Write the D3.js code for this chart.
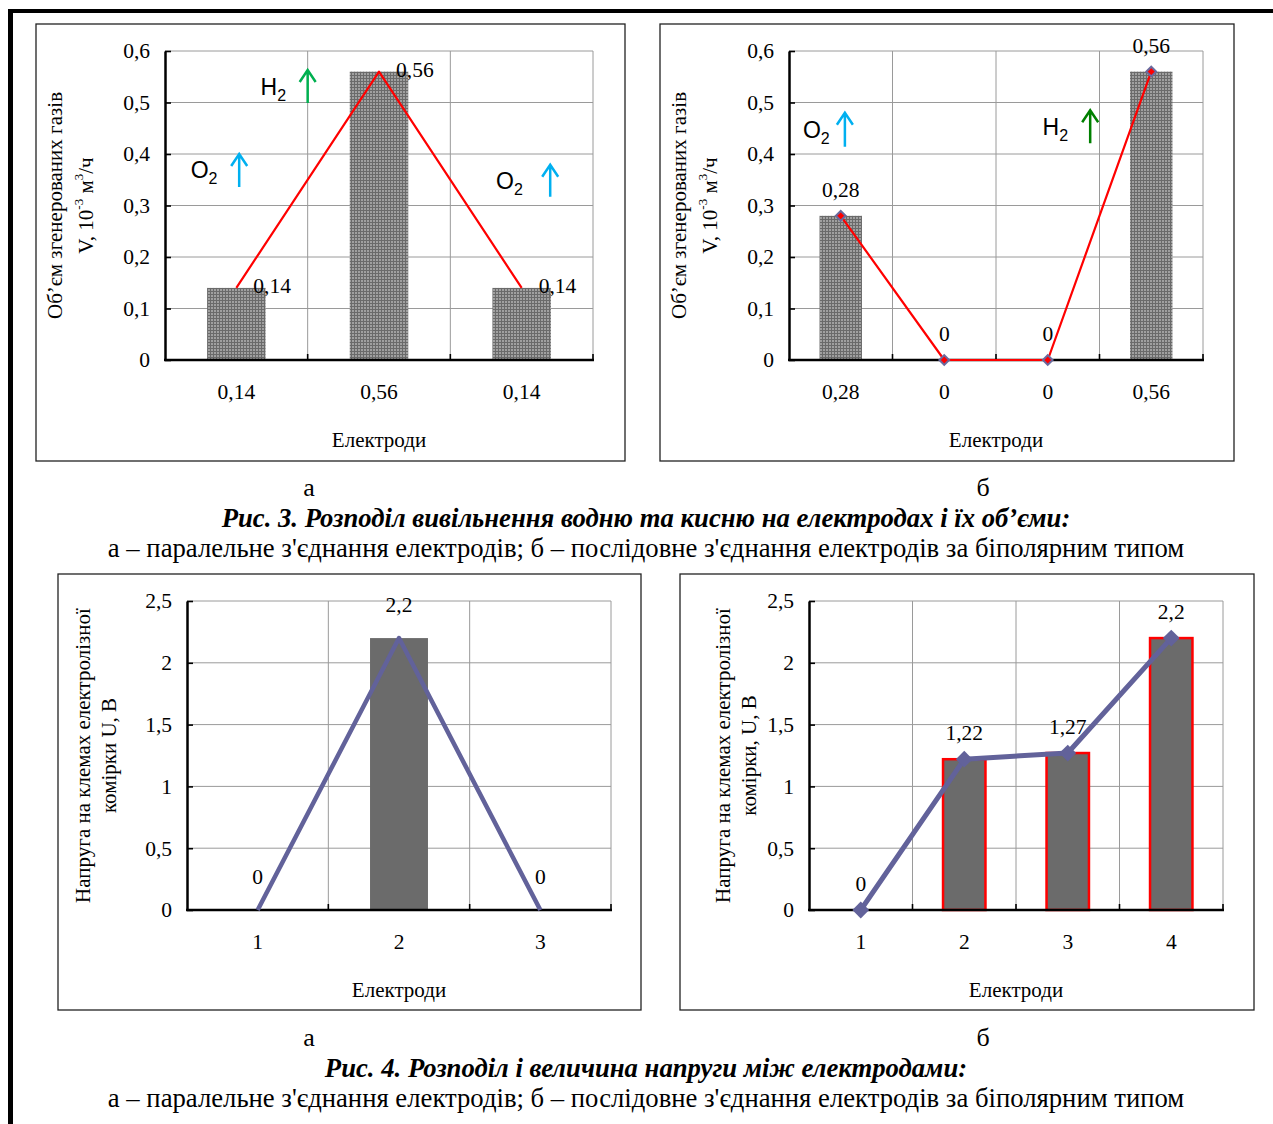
<!DOCTYPE html>
<html>
<head>
<meta charset="utf-8">
<script src="https://cdn.jsdelivr.net/npm/d3@7"></script>
<style>
  body { margin: 0; background: #fff; }
  svg { display: block; }
  text { font-family: 'Liberation Serif', 'Times New Roman', serif; fill: #000; }
  .sans { font-family: 'Liberation Sans', Arial, sans-serif; }
</style>
</head>
<body>
<script>
// --- data ---
const fig3aCategories = ['0,14', '0,56', '0,14']
const fig3aValues = [0.14, 0.56, 0.14]
const fig3bCategories = ['0,28', '0', '0', '0,56']
const fig3bValues = [0.28, 0, 0, 0.56]
const fig3Ticks = [0, 0.1, 0.2, 0.3, 0.4, 0.5, 0.6]

const fig4aCategories = ['1', '2', '3']
const fig4aValues = [0, 2.2, 0]
const fig4bCategories = ['1', '2', '3', '4']
const fig4bValues = [0, 1.22, 1.27, 2.2]
const fig4Ticks = [0, 0.5, 1, 1.5, 2, 2.5]

// gas annotations: x in band units from the left axis, arrow from y0 to y1
const fig3aGases = [
  { gas: 'O', color: '#00b0f0', tx: 0.18, ax: 0.52, y0: 0.336, y1: 0.40 },
  { gas: 'H', color: '#00b050', tx: 0.67, ax: 1.0, y0: 0.499, y1: 0.563 },
  { gas: 'O', color: '#00b0f0', tx: 2.32, ax: 2.70, y0: 0.317, y1: 0.379 }
]
const fig3bGases = [
  { gas: 'O', color: '#00b0f0', tx: 0.135, ax: 0.54, y0: 0.414, y1: 0.48 },
  { gas: 'H', color: '#008000', tx: 2.45, ax: 2.91, y0: 0.421, y1: 0.485 }
]

const subCaption = "а – паралельне з'єднання електродів; б – послідовне з'єднання електродів за біполярним типом"

const fmt = v => String(v).replace('.', ',')

const W = 1273, H = 1124
const svg = d3.select('body').append('svg').attr('width', W).attr('height', H)

// crosshatch fill used by the bars of fig. 3
const defs = svg.append('defs')
const pat = defs.append('pattern')
  .attr('id', 'hatch')
  .attr('patternUnits', 'userSpaceOnUse')
  .attr('width', 3).attr('height', 3)
pat.append('rect').attr('width', 3).attr('height', 3).attr('fill', '#a0a0a0')
pat.append('rect').attr('width', 3).attr('height', 1).attr('fill', '#6a6a6a')
pat.append('rect').attr('width', 1).attr('height', 3).attr('fill', '#6a6a6a')

// page frame (left + top)
svg.append('rect').attr('x', 8).attr('y', 9).attr('width', W - 8).attr('height', 4).attr('fill', '#000')
svg.append('rect').attr('x', 8).attr('y', 9).attr('width', 5).attr('height', H - 9).attr('fill', '#000')

function panel(o) {
  const g = svg.append('g')

  g.append('rect')
    .attr('x', o.box[0]).attr('y', o.box[1])
    .attr('width', o.box[2] - o.box[0]).attr('height', o.box[3] - o.box[1])
    .attr('fill', '#fff').attr('stroke', '#222').attr('stroke-width', 1.3)

  const x = d3.scaleBand().domain(d3.range(o.categories.length))
    .range([o.plot.left, o.plot.right]).padding(0)
  const y = d3.scaleLinear().domain([0, d3.max(o.ticks)])
    .range([o.plot.bottom, o.plot.top])
  const cx = i => x(i) + x.bandwidth() / 2

  // grid
  g.append('g').selectAll('line').data(o.ticks.slice(1)).join('line')
    .attr('x1', o.plot.left).attr('x2', o.plot.right)
    .attr('y1', d => y(d)).attr('y2', d => y(d))
    .attr('stroke', '#9a9a9a').attr('stroke-width', 1)
  const bounds = d3.range(1, o.categories.length + 1)
  const bx = i => o.plot.left + i * x.bandwidth()
  g.append('g').selectAll('line').data(bounds).join('line')
    .attr('x1', bx).attr('x2', bx)
    .attr('y1', o.plot.top).attr('y2', o.plot.bottom)
    .attr('stroke', '#9a9a9a').attr('stroke-width', 1)

  // bars
  const bw = x.bandwidth() * 0.41
  g.append('g').selectAll('rect')
    .data(o.values.map((v, i) => ({ v, i })).filter(d => d.v > 0))
    .join('rect')
    .attr('x', d => cx(d.i) - bw / 2)
    .attr('y', d => y(d.v))
    .attr('width', bw)
    .attr('height', d => y(0) - y(d.v))
    .attr('fill', o.barFill)
    .attr('stroke', o.barStroke || 'none')
    .attr('stroke-width', 2.5)

  // axes
  const yAxis = d3.axisLeft(y).tickValues(o.ticks).tickFormat(fmt)
    .tickSizeInner(-6).tickSizeOuter(0).tickPadding(15)
  const ya = g.append('g').attr('transform', `translate(${o.plot.left},0)`).call(yAxis)
  ya.select('.domain').attr('stroke', '#000').attr('stroke-width', 2.5)
  ya.selectAll('.tick line').attr('stroke', '#000').attr('stroke-width', 1.6)
  ya.selectAll('.tick text').attr('font-size', 21.5)
    .style('font-family', "'Liberation Serif', serif")

  const xa = g.append('g').attr('transform', `translate(0,${o.plot.bottom})`)
  xa.append('line').attr('x1', o.plot.left - 1).attr('x2', o.plot.right + 1)
    .attr('stroke', '#000').attr('stroke-width', 2.5)
  xa.selectAll('.bt').data(bounds).join('line').attr('class', 'bt')
    .attr('x1', bx).attr('x2', bx).attr('y1', 0).attr('y2', -6)
    .attr('stroke', '#000').attr('stroke-width', 1.6)
  xa.selectAll('.xl').data(o.categories).join('text').attr('class', 'xl')
    .attr('x', (d, i) => cx(i)).attr('y', 34)
    .attr('text-anchor', 'middle').attr('dominant-baseline', 'middle')
    .attr('font-size', 21.5).text(d => d)

  // line series
  const line = d3.line().x((d, i) => cx(i)).y(d => y(d))
  g.append('path').datum(o.values)
    .attr('d', line).attr('fill', 'none')
    .attr('stroke', o.lineColor).attr('stroke-width', o.lineWidth)
    .attr('stroke-linejoin', 'round')

  if (o.marker) {
    g.append('g').selectAll('path').data(o.values).join('path')
      .attr('transform', (d, i) => `translate(${cx(i)},${y(d)})`)
      .attr('d', d3.symbol(d3.symbolDiamond2, o.marker.size)())
      .attr('fill', o.marker.fill)
      .attr('stroke', o.marker.stroke)
      .attr('stroke-width', o.marker.strokeWidth)
  }

  // data labels
  g.append('g').selectAll('text').data(o.values).join('text')
    .attr('x', (d, i) => cx(i) + o.labelDx)
    .attr('y', d => y(d) - o.labelDy)
    .attr('text-anchor', o.labelDx ? 'start' : 'middle')
    .attr('dominant-baseline', 'middle')
    .attr('font-size', 21.5)
    .text(fmt)

  // gas annotations
  ;(o.gases || []).forEach(a => {
    const ax = o.plot.left + a.ax * x.bandwidth()
    const ya0 = y(a.y0), ya1 = y(a.y1)
    const t = g.append('text').attr('class', 'sans')
      .attr('x', o.plot.left + a.tx * x.bandwidth())
      .attr('y', (ya0 + ya1) / 2 + 8)
      .attr('font-size', 23)
    t.append('tspan').text(a.gas)
    t.append('tspan').attr('font-size', 16).attr('dy', 6).text('2')
    g.append('path')
      .attr('d', `M${ax},${ya0}L${ax},${ya1}M${ax - 8},${ya1 + 12}L${ax},${ya1}L${ax + 8},${ya1 + 12}`)
      .attr('fill', 'none').attr('stroke', a.color).attr('stroke-width', 2.5)
  })

  // titles
  const midY = (o.plot.top + o.plot.bottom) / 2
  o.yTitle.forEach((s, k) => {
    const tx = o.yTitleX[k]
    const t = g.append('text')
      .attr('transform', `translate(${tx},${midY}) rotate(-90)`)
      .attr('text-anchor', 'middle').attr('dominant-baseline', 'middle')
      .attr('font-size', 21)
    if (Array.isArray(s)) {
      s.forEach(p => {
        const sp = t.append('tspan').text(p.t)
        if (p.sup) sp.attr('font-size', 13).attr('baseline-shift', 'super')
      })
    } else t.text(s)
  })

  g.append('text')
    .attr('x', (o.plot.left + o.plot.right) / 2).attr('y', o.plot.bottom + 82)
    .attr('text-anchor', 'middle').attr('dominant-baseline', 'middle')
    .attr('font-size', 21).text('Електроди')
}

const fig3Title = [
  'Об’єм згенерованих газів',
  [{ t: 'V, 10' }, { t: '-3', sup: true }, { t: ' м' }, { t: '3', sup: true }, { t: '/ч' }]
]
const fig4TitleA = ['Напруга на клемах електролізної', 'комірки U, В']
const fig4TitleB = ['Напруга на клемах електролізної', 'комірки, U, В']

panel({
  box: [36, 24, 625, 461], plot: { left: 165, right: 593, top: 51, bottom: 360 },
  categories: fig3aCategories, values: fig3aValues, ticks: fig3Ticks,
  barFill: 'url(#hatch)', lineColor: '#ff0000', lineWidth: 2.2,
  labelDx: 17, labelDy: 0, gases: fig3aGases,
  yTitle: fig3Title, yTitleX: [57, 88]
})

panel({
  box: [660, 24, 1234, 461], plot: { left: 789, right: 1203, top: 51, bottom: 360 },
  categories: fig3bCategories, values: fig3bValues, ticks: fig3Ticks,
  barFill: 'url(#hatch)', lineColor: '#ff0000', lineWidth: 2.2,
  marker: { size: 60, fill: '#ff0000', stroke: '#6a6a9e', strokeWidth: 2 },
  labelDx: 0, labelDy: 24, gases: fig3bGases,
  yTitle: fig3Title, yTitleX: [681, 712]
})

panel({
  box: [58, 574, 641, 1010], plot: { left: 187, right: 611, top: 601, bottom: 910 },
  categories: fig4aCategories, values: fig4aValues, ticks: fig4Ticks,
  barFill: '#6b6b6b', lineColor: '#62629a', lineWidth: 4.5,
  labelDx: 0, labelDy: 31,
  yTitle: fig4TitleA, yTitleX: [85, 111]
})

panel({
  box: [680, 574, 1254, 1010], plot: { left: 809, right: 1223, top: 601, bottom: 910 },
  categories: fig4bCategories, values: fig4bValues, ticks: fig4Ticks,
  barFill: '#6b6b6b', barStroke: '#ff0000', lineColor: '#62629a', lineWidth: 5,
  marker: { size: 180, fill: '#62629a', stroke: 'none', strokeWidth: 0 },
  labelDx: 0, labelDy: 24,
  yTitle: fig4TitleB, yTitleX: [725, 751]
})

// captions
function caption(yTop, title) {
  svg.append('text').attr('x', 309).attr('y', yTop).attr('text-anchor', 'middle')
    .attr('dominant-baseline', 'middle').attr('font-size', 26).text('а')
  svg.append('text').attr('x', 983).attr('y', yTop).attr('text-anchor', 'middle')
    .attr('dominant-baseline', 'middle').attr('font-size', 26).text('б')
  svg.append('text').attr('x', 646).attr('y', yTop + 31).attr('text-anchor', 'middle')
    .attr('dominant-baseline', 'middle').attr('font-size', 26.7)
    .attr('font-weight', 'bold').attr('font-style', 'italic').text(title)
  svg.append('text').attr('x', 646).attr('y', yTop + 61).attr('text-anchor', 'middle')
    .attr('dominant-baseline', 'middle').attr('font-size', 26.7).text(subCaption)
}
caption(490, 'Рис. 3. Розподіл вивільнення водню та кисню на електродах і їх об’єми:')
caption(1040, 'Рис. 4. Розподіл і величина напруги між електродами:')
</script>
</body>
</html>
